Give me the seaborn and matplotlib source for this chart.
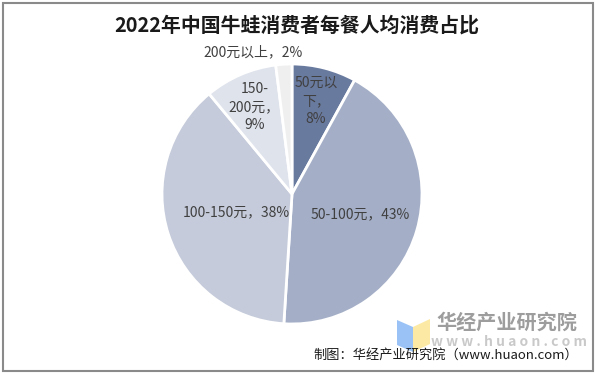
import numpy as np
import matplotlib
matplotlib.use("Agg")
import matplotlib.pyplot as plt
import seaborn as sns
from matplotlib.patches import Polygon, Rectangle

# data
categories = ["50元以下", "50-100元", "100-150元", "150-200元", "200元以上"]
shares = [8, 43, 38, 9, 2]
label_texts = ["50元以\n下，\n8%", "50-100元，43%", "100-150元，38%", "150-\n200元，\n9%", "200元以上，2%"]

colors = ["#697a9f", "#a4afc7", "#c5cbda", "#dfe3ec", "#efefef"]
label_r = [0.74, 0.55, 0.45, 0.73, 1.09]
label_dx = [0.0, 0.0, 0.0, 0.0, -0.23]

sns.set_theme(style="white")
plt.rcParams['font.family'] = ['Noto Sans CJK SC', 'DejaVu Sans']

W, H = 595, 373
fig = plt.figure(figsize=(W / 100, H / 100), dpi=100)
fig.patch.set_facecolor("white")

# pie axes: centre (292,194) px, radius 130 px
R = 130
half = 1.25 * R
ax = fig.add_axes([(292 - half) / W, (H - 194 - half) / H, 2 * half / W, 2 * half / H])
ax.set_xlim(-1.25, 1.25)
ax.set_ylim(-1.25, 1.25)
ax.set_aspect("equal")
ax.axis("off")

wedges, _ = ax.pie(shares, colors=colors, startangle=90, counterclock=False,
                   radius=1.0, wedgeprops=dict(edgecolor="white", linewidth=2))

total = sum(shares)
cum = np.cumsum([0] + shares[:-1])
for i, txt in enumerate(label_texts):
    mid = np.deg2rad(90 - (cum[i] + shares[i] / 2) / total * 360)
    x = label_r[i] * np.cos(mid) + label_dx[i]
    y = label_r[i] * np.sin(mid)
    ax.text(x, y, txt, ha="center", va="center", fontsize=10, color="#404040",
            linespacing=1.35)

# title
fig.text(297 / W, 1 - 25 / H, "2022年中国牛蛙消费者每餐人均消费占比", ha="center", va="center",
         fontsize=14.3, fontweight="bold", color="#1a1a1a")

# watermark logo
fig.patches.append(Polygon([[397 / W, 1 - 320 / H], [413 / W, 1 - 327 / H], [413 / W, 1 - 352 / H], [397 / W, 1 - 345 / H]],
                           closed=True, transform=fig.transFigure, facecolor="#8fbcf5", edgecolor="none", alpha=0.9))
fig.patches.append(Polygon([[413 / W, 1 - 327 / H], [430 / W, 1 - 319 / H], [430 / W, 1 - 344 / H], [413 / W, 1 - 352 / H]],
                           closed=True, transform=fig.transFigure, facecolor="#fbe79a", edgecolor="none", alpha=0.9))
fig.text(507 / W, 1 - 322 / H, "华经产业研究院", ha="center", va="center", fontsize=14.5,
         fontweight="bold", color="#8c8c8c", alpha=0.85)
fig.text(509 / W, 1 - 342 / H, "w w w . h u a o n . c o m", ha="center", va="center", fontsize=10,
         fontweight="bold", color="#c4c4c4", alpha=0.9)

# source
fig.text(578 / W, 1 - 355 / H, "制图：华经产业研究院（www.huaon.com）", ha="right", va="center",
         fontsize=9.5, color="#1a1a1a")

# border
fig.patches.append(Rectangle((2.5 / W, 2 / H), (W - 5) / W, (H - 4.5) / H, transform=fig.transFigure,
                             fill=False, edgecolor="#8a8a8a", linewidth=1.5))

fig.savefig("out.png", dpi=100, facecolor="white")
